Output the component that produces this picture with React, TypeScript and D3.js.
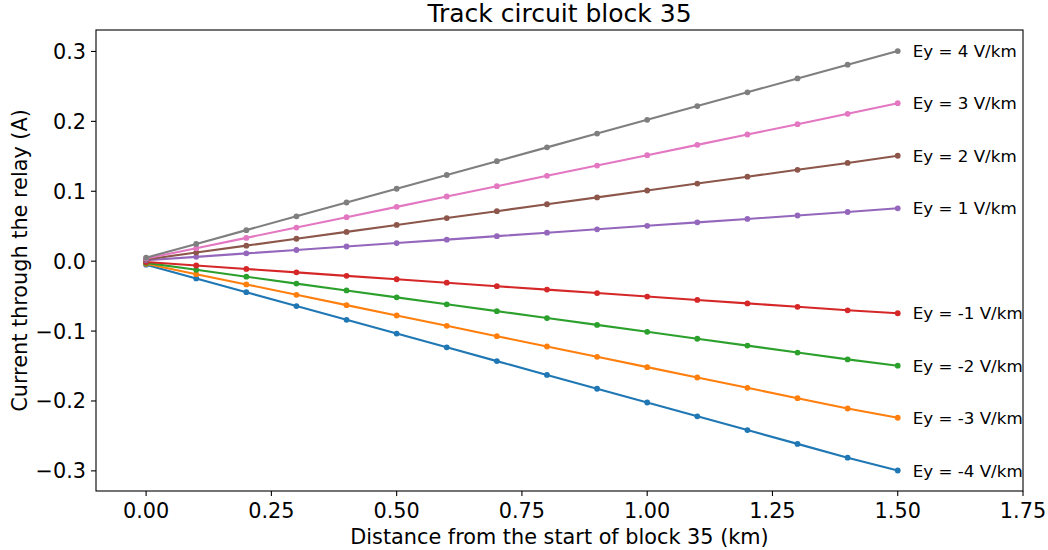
import React from "react";
import * as d3 from "d3";

const distances = [0, 0.1, 0.2, 0.3, 0.4, 0.5, 0.6, 0.7, 0.8, 0.9, 1.0, 1.1, 1.2, 1.3, 1.4, 1.5];

const fieldLabels = ["Ey = -4 V/km", "Ey = -3 V/km", "Ey = -2 V/km", "Ey = -1 V/km", "Ey = 1 V/km", "Ey = 2 V/km", "Ey = 3 V/km", "Ey = 4 V/km"];
const fieldColors = ["#1f77b4", "#ff7f0e", "#2ca02c", "#d62728", "#9467bd", "#8c564b", "#e377c2", "#7f7f7f"];

const currentEm4 = [-0.0050, -0.0247, -0.0444, -0.0642, -0.0839, -0.1036, -0.1233, -0.1430, -0.1628, -0.1825, -0.2022, -0.2219, -0.2416, -0.2614, -0.2811, -0.2995];
const currentEm3 = [-0.0038, -0.0186, -0.0333, -0.0481, -0.0629, -0.0777, -0.0925, -0.1073, -0.1221, -0.1368, -0.1516, -0.1664, -0.1812, -0.1960, -0.2108, -0.2240];
const currentEm2 = [-0.0025, -0.0124, -0.0222, -0.0321, -0.0419, -0.0518, -0.0617, -0.0715, -0.0814, -0.0912, -0.1011, -0.1110, -0.1208, -0.1307, -0.1405, -0.1495];
const currentEm1 = [-0.0013, -0.0062, -0.0111, -0.0160, -0.0210, -0.0259, -0.0308, -0.0358, -0.0407, -0.0456, -0.0506, -0.0555, -0.0604, -0.0653, -0.0703, -0.0745];
const currentE1 = [0.0013, 0.0062, 0.0111, 0.0160, 0.0210, 0.0259, 0.0308, 0.0358, 0.0407, 0.0456, 0.0506, 0.0555, 0.0604, 0.0653, 0.0703, 0.0756];
const currentE2 = [0.0025, 0.0124, 0.0222, 0.0321, 0.0419, 0.0518, 0.0617, 0.0715, 0.0814, 0.0912, 0.1011, 0.1110, 0.1208, 0.1307, 0.1405, 0.1508];
const currentE3 = [0.0038, 0.0186, 0.0333, 0.0481, 0.0629, 0.0777, 0.0925, 0.1073, 0.1221, 0.1368, 0.1516, 0.1664, 0.1812, 0.1960, 0.2108, 0.2260];
const currentE4 = [0.0050, 0.0247, 0.0444, 0.0642, 0.0839, 0.1036, 0.1233, 0.1430, 0.1628, 0.1825, 0.2022, 0.2219, 0.2416, 0.2614, 0.2811, 0.3005];

const seriesValues = [currentEm4, currentEm3, currentEm2, currentEm1, currentE1, currentE2, currentE3, currentE4];

const xTicks = [0, 0.25, 0.5, 0.75, 1.0, 1.25, 1.5, 1.75];
const yTicks = [-0.3, -0.2, -0.1, 0, 0.1, 0.2, 0.3];

const W = 1048, H = 550;
const L = 96, R = 1023, T = 30, B = 491;
const FONT = "DejaVu Sans, sans-serif";

export default function App() {
  const x = d3.scaleLinear().domain([-0.1, 1.75]).range([L, R]);
  const y = d3.scaleLinear().domain([-0.3288, 0.3307]).range([B, T]);
  const line = d3.line<number>().x((_, i) => x(distances[i])).y((v) => y(v));
  const fmtX = d3.format(".2f");
  const fmtY = (v: number) => d3.format(".1f")(v).replace("-", "\u2212");

  return (
    <svg width={W} height={H} style={{ position: "absolute", left: 0, top: 0, background: "#fff" }} fontFamily={FONT}>
      <rect x={0} y={0} width={W} height={H} fill="#fff" />
      {seriesValues.map((vals, s) => (
        <g key={s}>
          <path d={line(vals) || ""} fill="none" stroke={fieldColors[s]} strokeWidth={2.1} />
          {vals.map((v, i) => (
            <circle key={i} cx={x(distances[i])} cy={y(v)} r={2.9} fill={fieldColors[s]} />
          ))}
          <text x={x(1.53)} y={y(vals[vals.length - 1])} dy="0.36em" fontSize={16.7} fill="#000">
            {fieldLabels[s]}
          </text>
        </g>
      ))}
      <rect x={L} y={T} width={R - L} height={B - T} fill="none" stroke="#000" strokeWidth={1.1} />
      {xTicks.map((t) => (
        <g key={t}>
          <line x1={x(t)} x2={x(t)} y1={B} y2={B + 5} stroke="#000" strokeWidth={1.1} />
          <text x={x(t)} y={517.5} textAnchor="middle" fontSize={20.8} fill="#000">{fmtX(t)}</text>
        </g>
      ))}
      {yTicks.map((t) => (
        <g key={t}>
          <line x1={L - 5} x2={L} y1={y(t)} y2={y(t)} stroke="#000" strokeWidth={1.1} />
          <text x={86} y={y(t)} dy="0.36em" textAnchor="end" fontSize={20.8} fill="#000">{fmtY(t)}</text>
        </g>
      ))}
      <text x={(L + R) / 2} y={544} textAnchor="middle" fontSize={20.8} fill="#000">
        Distance from the start of block 35 (km)
      </text>
      <text transform={`translate(27,${(T + B) / 2}) rotate(-90)`} textAnchor="middle" fontSize={20.8} fill="#000">
        Current through the relay (A)
      </text>
      <text x={(L + R) / 2} y={22} textAnchor="middle" fontSize={25} fill="#000">
        Track circuit block 35
      </text>
    </svg>
  );
}
